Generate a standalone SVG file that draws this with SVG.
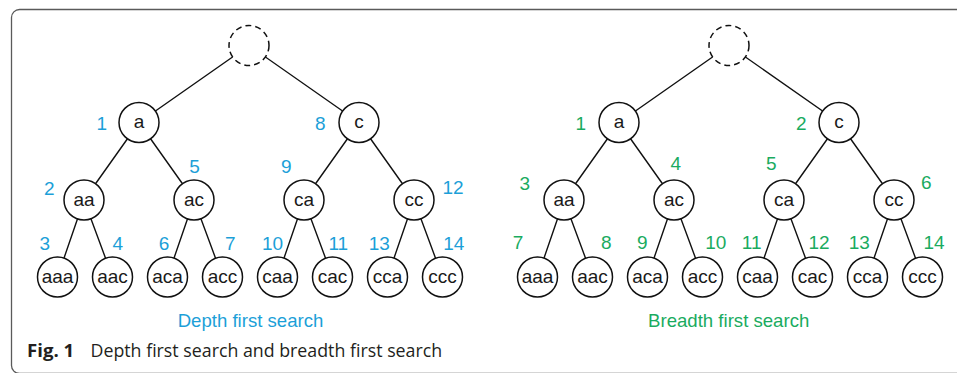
<svg xmlns="http://www.w3.org/2000/svg" width="957" height="373" viewBox="0 0 957 373">
  <style>
    .frame { fill: #ffffff; stroke: #5a5a5a; stroke-width: 1.3; }
    .edge { stroke: #111111; stroke-width: 1.4; fill: none; }
    .node circle { fill: #ffffff; stroke: #111111; stroke-width: 1.5; }
    .root circle { fill: #ffffff; stroke: #111111; stroke-width: 1.5; stroke-dasharray: 6 4; }
    .node text { font-family: "Liberation Sans", Arial, sans-serif; font-size: 19px; fill: #1a1a1a; text-anchor: middle; }
    .num { font-family: "Liberation Sans", Arial, sans-serif; font-size: 19px; text-anchor: middle; }
    .dfs { fill: #1c9fd8; }
    .bfs { fill: #1aab5f; }
    .title { font-family: "Liberation Sans", Arial, sans-serif; font-size: 18.6px; text-anchor: middle; }
    .caption { font-family: "Open Sans", "Noto Sans", sans-serif; font-size: 17.8px; fill: #231f20; }
  </style>

  <!-- outer figure frame -->
  <rect class="frame" x="11.5" y="9.5" width="960" height="364" rx="8"/>

  <!-- connectors: both trees (right tree shifted 480px) -->
  <g id="connectors" class="edge">
    <g id="edges-dfs">
      <path d="M249 45.5L139 122.5M249 45.5L359 122.5
               M139 122.5L84 200M139 122.5L194 200M359 122.5L304 200M359 122.5L414 200
               M84 200L57.5 277M84 200L112.5 277M194 200L167.5 277M194 200L222.5 277
               M304 200L277.5 277M304 200L332.5 277M414 200L387.5 277M414 200L442.5 277"/>
    </g>
    <g id="edges-bfs" transform="translate(480 0)">
      <path d="M249 45.5L139 122.5M249 45.5L359 122.5
               M139 122.5L84 200M139 122.5L194 200M359 122.5L304 200M359 122.5L414 200
               M84 200L57.5 277M84 200L112.5 277M194 200L167.5 277M194 200L222.5 277
               M304 200L277.5 277M304 200L332.5 277M414 200L387.5 277M414 200L442.5 277"/>
    </g>
  </g>

  <!-- depth first tree -->
  <g id="tree-dfs">
    <g id="dfs-root" class="root"><circle cx="249" cy="45.5" r="20"/></g>
    <g id="dfs-a" class="node"><circle cx="139" cy="122.5" r="20"/><text x="139" y="128.3">a</text></g>
    <g id="dfs-c" class="node"><circle cx="359" cy="122.5" r="20"/><text x="359" y="128.3">c</text></g>
    <g id="dfs-aa" class="node"><circle cx="84" cy="200" r="20"/><text x="84" y="205.8">aa</text></g>
    <g id="dfs-ac" class="node"><circle cx="194" cy="200" r="20"/><text x="194" y="205.8">ac</text></g>
    <g id="dfs-ca" class="node"><circle cx="304" cy="200" r="20"/><text x="304" y="205.8">ca</text></g>
    <g id="dfs-cc" class="node"><circle cx="414" cy="200" r="20"/><text x="414" y="205.8">cc</text></g>
    <g id="dfs-aaa" class="node"><circle cx="57.5" cy="277" r="20"/><text x="57.5" y="282.8">aaa</text></g>
    <g id="dfs-aac" class="node"><circle cx="112.5" cy="277" r="20"/><text x="112.5" y="282.8">aac</text></g>
    <g id="dfs-aca" class="node"><circle cx="167.5" cy="277" r="20"/><text x="167.5" y="282.8">aca</text></g>
    <g id="dfs-acc" class="node"><circle cx="222.5" cy="277" r="20"/><text x="222.5" y="282.8">acc</text></g>
    <g id="dfs-caa" class="node"><circle cx="277.5" cy="277" r="20"/><text x="277.5" y="282.8">caa</text></g>
    <g id="dfs-cac" class="node"><circle cx="332.5" cy="277" r="20"/><text x="332.5" y="282.8">cac</text></g>
    <g id="dfs-cca" class="node"><circle cx="387.5" cy="277" r="20"/><text x="387.5" y="282.8">cca</text></g>
    <g id="dfs-ccc" class="node"><circle cx="442.5" cy="277" r="20"/><text x="442.5" y="282.8">ccc</text></g>
  </g>

  <!-- visit order, depth first -->
  <g id="order-dfs" class="num dfs">
    <text x="101.7" y="129.5">1</text>
    <text x="49.2" y="194.8">2</text>
    <text x="44.7" y="250.3">3</text>
    <text x="117.7" y="250.3">4</text>
    <text x="194.5" y="172.8">5</text>
    <text x="164" y="250.3">6</text>
    <text x="230.2" y="250.3">7</text>
    <text x="320.3" y="129.8">8</text>
    <text x="286.3" y="172.8">9</text>
    <text x="272.5" y="250.3">10</text>
    <text x="338.3" y="250.3">11</text>
    <text x="453" y="193.8">12</text>
    <text x="379.2" y="250.3">13</text>
    <text x="453.8" y="250.3">14</text>
  </g>

  <!-- breadth first tree -->
  <g id="tree-bfs">
    <g id="bfs-root" class="root"><circle cx="729" cy="45.5" r="20"/></g>
    <g id="bfs-a" class="node"><circle cx="619" cy="122.5" r="20"/><text x="619" y="128.3">a</text></g>
    <g id="bfs-c" class="node"><circle cx="839" cy="122.5" r="20"/><text x="839" y="128.3">c</text></g>
    <g id="bfs-aa" class="node"><circle cx="564" cy="200" r="20"/><text x="564" y="205.8">aa</text></g>
    <g id="bfs-ac" class="node"><circle cx="674" cy="200" r="20"/><text x="674" y="205.8">ac</text></g>
    <g id="bfs-ca" class="node"><circle cx="784" cy="200" r="20"/><text x="784" y="205.8">ca</text></g>
    <g id="bfs-cc" class="node"><circle cx="894" cy="200" r="20"/><text x="894" y="205.8">cc</text></g>
    <g id="bfs-aaa" class="node"><circle cx="537.5" cy="277" r="20"/><text x="537.5" y="282.8">aaa</text></g>
    <g id="bfs-aac" class="node"><circle cx="592.5" cy="277" r="20"/><text x="592.5" y="282.8">aac</text></g>
    <g id="bfs-aca" class="node"><circle cx="647.5" cy="277" r="20"/><text x="647.5" y="282.8">aca</text></g>
    <g id="bfs-acc" class="node"><circle cx="702.5" cy="277" r="20"/><text x="702.5" y="282.8">acc</text></g>
    <g id="bfs-caa" class="node"><circle cx="757.5" cy="277" r="20"/><text x="757.5" y="282.8">caa</text></g>
    <g id="bfs-cac" class="node"><circle cx="812.5" cy="277" r="20"/><text x="812.5" y="282.8">cac</text></g>
    <g id="bfs-cca" class="node"><circle cx="867.5" cy="277" r="20"/><text x="867.5" y="282.8">cca</text></g>
    <g id="bfs-ccc" class="node"><circle cx="922.5" cy="277" r="20"/><text x="922.5" y="282.8">ccc</text></g>
  </g>

  <!-- visit order, breadth first -->
  <g id="order-bfs" class="num bfs">
    <text x="580.8" y="129.8">1</text>
    <text x="801.2" y="130.1">2</text>
    <text x="524.7" y="189.6">3</text>
    <text x="675.8" y="170.3">4</text>
    <text x="771.3" y="170.3">5</text>
    <text x="926.3" y="189.3">6</text>
    <text x="518" y="248.5">7</text>
    <text x="606.3" y="248.5">8</text>
    <text x="642.2" y="248.5">9</text>
    <text x="715.8" y="248.5">10</text>
    <text x="751.7" y="248.5">11</text>
    <text x="819" y="248.5">12</text>
    <text x="859.2" y="248.5">13</text>
    <text x="934" y="248.5">14</text>
  </g>

  <!-- panel titles -->
  <text class="title dfs" x="250.5" y="326.8">Depth first search</text>
  <text class="title bfs" x="728.7" y="326.8">Breadth first search</text>

  <!-- figure caption -->
  <text class="caption" x="27" y="357"><tspan font-weight="bold" font-size="18.6px">Fig. 1</tspan><tspan x="90.5">Depth first search and breadth first search</tspan></text>
</svg>
